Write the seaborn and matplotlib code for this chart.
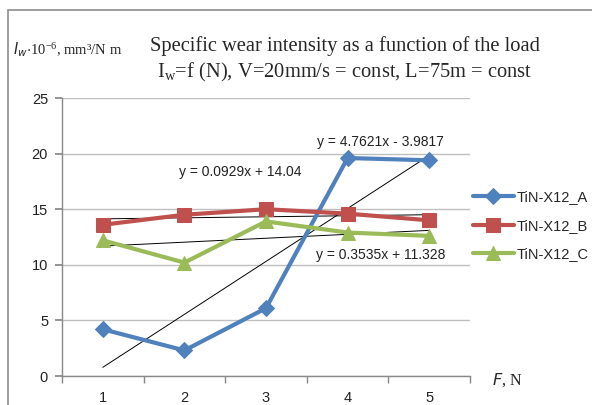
import numpy as np
import pandas as pd
import matplotlib
matplotlib.use("Agg")
import matplotlib.pyplot as plt
from matplotlib.patches import Rectangle
import seaborn as sns

loads = [1, 2, 3, 4, 5]
series_names = ["TiN-X12_A", "TiN-X12_B", "TiN-X12_C"]
wear_A = [4.2, 2.3, 6.1, 19.6, 19.4]
wear_B = [13.6, 14.5, 15.0, 14.6, 14.0]
wear_C = [12.2, 10.2, 13.9, 12.9, 12.6]
trend_slopes = [4.7621, 0.0929, 0.3535]
trend_intercepts = [-3.9817, 14.04, 11.328]
trend_labels = ["y = 4.7621x - 3.9817", "y = 0.0929x + 14.04", "y = 0.3535x + 11.328"]
y_ticks = [0, 5, 10, 15, 20, 25]

colors = ["#4F81BD", "#C0504D", "#9BBB59"]
markers = ["D", "s", "^"]
msizes = [8, 10, 10]

sns.set_theme(style="white")
plt.rcParams["font.family"] = ["Liberation Sans", "DejaVu Sans"]

df = pd.DataFrame({
    "F": loads * 3,
    "Iw": wear_A + wear_B + wear_C,
    "series": sum([[n] * len(loads) for n in series_names], []),
})

fig = plt.figure(figsize=(5.92, 4.05), dpi=100)
ax = fig.add_axes([62 / 592, 1 - 376 / 405, (470 - 62) / 592, (376 - 98) / 405])

x = np.array(loads, dtype=float)
for m, b in zip(trend_slopes, trend_intercepts):
    ax.plot(x, m * x + b, color="black", lw=0.7, zorder=3)

for name, c, mk, ms in zip(series_names, colors, markers, msizes):
    sns.lineplot(data=df[df["series"] == name], x="F", y="Iw", ax=ax, color=c,
                 marker=mk, markersize=ms, markeredgecolor=c, lw=3, label=name,
                 zorder=4, errorbar=None)

ax.set_xlim(0.5, 5.5)
ax.set_ylim(0, 25)
ax.set_yticks(y_ticks)
ax.set_xticks(loads)
ax.set_xticks([0.5, 1.5, 2.5, 3.5, 4.5, 5.5], minor=True)
ax.yaxis.grid(True, color="#BFBFBF", lw=1)
ax.tick_params(axis="y", which="major", left=True, length=5, color="#888888",
               labelsize=10.5, pad=5, labelcolor="#222222")
ax.tick_params(axis="x", which="major", bottom=False, labelsize=10.5, pad=5,
               labelcolor="#222222")
ax.tick_params(axis="x", which="minor", bottom=True, length=5, color="#888888")
for s in ["top", "right"]:
    ax.spines[s].set_visible(False)
for s in ["left", "bottom"]:
    ax.spines[s].set_color("#888888")
    ax.spines[s].set_linewidth(1)
ax.set_xlabel("")
ax.set_ylabel("")

ax.text(4.40, 21.0, trend_labels[0], fontsize=10, ha="center", va="center", color="#222222")
ax.text(2.68, 18.35, trend_labels[1], fontsize=10, ha="center", va="center", color="#222222")
ax.text(4.40, 10.9, trend_labels[2], fontsize=10, ha="center", va="center", color="#222222")

leg = ax.legend(loc="center left", bbox_to_anchor=(0.975, 0.54), frameon=False,
                fontsize=10.5, handlelength=2.8, labelspacing=1.0, handletextpad=0.2)

serif = ["Liberation Serif", "DejaVu Serif"]
fig.text(345 / 592, 1 - 46 / 405, "Specific wear intensity as a function of the load",
         ha="center", va="center", fontsize=14.8, family=serif)
fig.text(345 / 592, 1 - 72 / 405, r"I$_\mathregular{w}$=f (N), V=20mm/s = const, L=75m = const",
         ha="center", va="center", fontsize=14.8, family=serif)
fig.text(13 / 592, 1 - 50 / 405,
         r"$\mathit{I_w}$$\mathregular{\cdot10^{-6}}$, mm³/N m",
         ha="left", va="center", fontsize=10.5, family=serif)
fig.text(492 / 592, 1 - 380 / 405, r"$\mathit{F}$, N", ha="left", va="center",
         fontsize=11.5, family=serif)

fig.patches.append(Rectangle((8 / 592, -0.2), 1.2, 1.2 - 10 / 405,
                             transform=fig.transFigure, fill=False,
                             edgecolor="#8C8C8C", lw=1.2))

fig.savefig("out.png", dpi=100)
